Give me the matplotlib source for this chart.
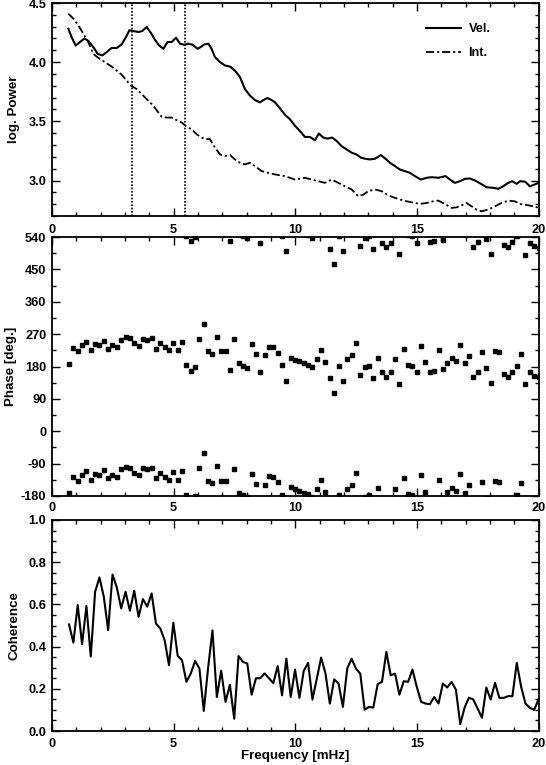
import numpy as np
import matplotlib
matplotlib.use("Agg")
import matplotlib.pyplot as plt
from matplotlib.ticker import MultipleLocator, FixedLocator

# ---------------- data ----------------
vel_freq = [0.67, 0.81, 0.97, 1.15, 1.33, 1.49, 1.70, 1.88, 2.07, 2.25, 2.45, 2.66, 2.86, 3.03, 3.18,
            3.34, 3.55, 3.71, 3.89, 4.07, 4.23, 4.40, 4.58, 4.75, 4.92, 5.10, 5.26, 5.44, 5.60, 5.78,
            5.99, 6.15, 6.26, 6.43, 6.56, 6.70, 6.91, 7.11, 7.32, 7.52, 7.73, 7.93, 8.14, 8.34, 8.55,
            8.69, 8.86, 9.03, 9.17, 9.37, 9.58, 9.78, 9.99, 10.19, 10.40, 10.60, 10.81, 10.97, 11.15,
            11.33, 11.52, 11.70, 11.91, 12.11, 12.32, 12.52, 12.70, 12.87, 13.07, 13.28, 13.52, 13.69,
            13.89, 14.10, 14.30, 14.51, 14.71, 14.92, 15.17, 15.40, 15.61, 15.88, 16.18, 16.36, 16.56,
            16.77, 16.98, 17.18, 17.39, 17.63, 17.87, 18.14, 18.35, 18.55, 18.76, 18.92, 19.10, 19.24,
            19.45, 19.65, 20.0]
vel_power = [4.283, 4.21, 4.14, 4.17, 4.20, 4.18, 4.127, 4.07, 4.057, 4.085, 4.12, 4.12, 4.15, 4.207, 4.27,
             4.263, 4.255, 4.263, 4.297, 4.246, 4.19, 4.142, 4.113, 4.17, 4.17, 4.207, 4.156, 4.147, 4.156, 4.147,
             4.113, 4.133, 4.15, 4.156, 4.113, 4.042, 4.0, 3.972, 3.963, 3.929, 3.873, 3.773, 3.717, 3.68, 3.66,
             3.68, 3.697, 3.68, 3.66, 3.61, 3.555, 3.518, 3.462, 3.419, 3.368, 3.368, 3.34, 3.397, 3.363,
             3.354, 3.363, 3.334, 3.29, 3.263, 3.235, 3.22, 3.193, 3.184, 3.178, 3.184, 3.215, 3.187,
             3.15, 3.122, 3.093, 3.079, 3.065, 3.037, 3.008, 3.023, 3.028, 3.023, 3.037, 3.008, 2.98,
             2.994, 3.014, 3.017, 3.0, 2.972, 2.943, 2.938, 2.93, 2.952, 2.98, 2.994, 2.972, 2.994,
             2.99, 2.95, 2.98]

int_freq = [0.67, 0.88, 1.08, 1.29, 1.49, 1.70, 1.90, 2.18, 2.45, 2.66, 2.86, 3.07, 3.25, 3.48, 3.69,
            3.89, 4.10, 4.30, 4.51, 4.71, 4.92, 5.12, 5.33, 5.54, 5.74, 5.95, 6.15, 6.29, 6.49, 6.70,
            6.91, 7.11, 7.32, 7.52, 7.73, 7.93, 8.14, 8.34, 8.62, 8.89, 9.17, 9.58, 9.99, 10.40, 10.67,
            10.95, 11.22, 11.50, 11.77, 12.04, 12.32, 12.59, 12.80, 13.00, 13.28, 13.55, 13.82, 14.10,
            14.44, 14.78, 15.13, 15.40, 15.67, 15.88, 16.15, 16.43, 16.63, 16.84, 17.04, 17.25, 17.45,
            17.66, 17.93, 18.21, 18.48, 18.76, 19.03, 19.24, 19.60, 20.0]
int_power = [4.41, 4.368, 4.312, 4.24, 4.17, 4.07, 4.037, 4.0, 3.963, 3.929, 3.895, 3.844, 3.80, 3.773, 3.73,
             3.688, 3.646, 3.595, 3.538, 3.532, 3.532, 3.51, 3.49, 3.453, 3.433, 3.39, 3.363, 3.35, 3.35, 3.278,
             3.22, 3.207, 3.215, 3.178, 3.15, 3.136, 3.15, 3.122, 3.079, 3.065, 3.051, 3.037, 3.008, 3.023, 3.008,
             2.994, 2.98, 3.008, 2.98, 2.952, 2.924, 2.867, 2.881, 2.91, 2.924, 2.91, 2.875, 2.853,
             2.83, 2.816, 2.802, 2.81, 2.824, 2.83, 2.802, 2.768, 2.773, 2.79, 2.81, 2.782, 2.754,
             2.74, 2.754, 2.782, 2.81, 2.83, 2.824, 2.802, 2.79, 2.77]

marked_freqs = [3.27, 5.48]

phase = [187, 232, 223, 239, 249, 225, 242, 239, 251, 230, 239, 233, 255, 261, 258, 244, 238, 257,
         255, 258, 230, 244, 233, 225, 246, 225, 249, 184, 168, 180, 257, 299, 223, 216, 263, 223,
         223, 170, 256, 189, 182, 176, 242, 214, 164, 211, 235, 233, 218, 184, 140, 204, 199, 195,
         189, 185, 178, 200, 225, 192, 147, 105, 182, 140, 200, 211, 244, 156, 178, 182, 147, 203,
         164, 152, 164, 200, 132, 230, 185, 182, 164, 238, 192, 165, 168, 225, 173, 190, 203, 195,
         241, 189, 210, 152, 165, 220, 175, 133, 223, 220, 159, 152, 165, 182, 215, 130, 164, 154, 150]

coherence = [0.505, 0.419, 0.597, 0.411, 0.592, 0.353, 0.660, 0.728, 0.636, 0.478,
             0.741, 0.680, 0.581, 0.660, 0.570, 0.665, 0.541, 0.625, 0.589, 0.652,
             0.509, 0.486, 0.430, 0.312, 0.513, 0.356, 0.335, 0.233, 0.272, 0.332,
             0.296, 0.095, 0.300, 0.477, 0.161, 0.286, 0.138, 0.219, 0.058, 0.355,
             0.328, 0.320, 0.172, 0.250, 0.250, 0.273, 0.250, 0.227, 0.308,
             0.169, 0.343, 0.161, 0.291, 0.157, 0.285, 0.323, 0.149, 0.248, 0.348,
             0.272, 0.130, 0.245, 0.225, 0.114, 0.296, 0.343, 0.296, 0.272, 0.101,
             0.114, 0.111, 0.222, 0.233, 0.375, 0.264, 0.272, 0.172, 0.236, 0.233,
             0.291, 0.209, 0.138, 0.130, 0.127, 0.161, 0.130, 0.225, 0.206, 0.233,
             0.196, 0.032, 0.111, 0.158, 0.149, 0.106, 0.063, 0.206, 0.149, 0.228,
             0.157, 0.157, 0.165, 0.165, 0.323,
             0.21, 0.13, 0.11, 0.10, 0.15]

f_start, f_stop = 0.70, 20.0
freq = np.linspace(f_start, f_stop, len(coherence))

xticks = [0, 5, 10, 15, 20]
power_ticks = [3.0, 3.5, 4.0, 4.5]
phase_ticks = [-180, -90, 0, 90, 180, 270, 360, 450, 540]
coh_ticks = [0.0, 0.2, 0.4, 0.6, 0.8, 1.0]

# ---------------- style ----------------
plt.rcParams['font.family'] = ['Liberation Sans', 'DejaVu Sans']
plt.rcParams['font.weight'] = 'bold'
FS = 9.2
LFS = 9.6

W, H = 546, 765
fig = plt.figure(figsize=(W / 100, H / 100), dpi=100)

def add_ax(top, bottom):
    left, right = 52, 538.5
    return fig.add_axes([left / W, 1 - bottom / H, (right - left) / W, (bottom - top) / H])

def style(ax, yticks, yminor, fmt, xpad=4):
    ax.set_xlim(0, 20)
    ax.xaxis.set_major_locator(FixedLocator(xticks))
    ax.xaxis.set_minor_locator(MultipleLocator(1))
    ax.yaxis.set_major_locator(FixedLocator(yticks))
    ax.yaxis.set_minor_locator(MultipleLocator(yminor))
    ax.set_xticklabels([str(t) for t in xticks], fontweight='bold')
    ax.set_yticklabels([fmt(t) for t in yticks], fontweight='bold')
    ax.tick_params(which='both', direction='in', top=True, right=True, width=1.0,
                   labelsize=FS, pad=4)
    ax.tick_params(axis='x', which='both', pad=xpad)
    ax.tick_params(which='major', length=6)
    ax.tick_params(which='minor', length=3)
    for s in ax.spines.values():
        s.set_linewidth(1.3)

# ---- top panel ----
ax1 = add_ax(3, 216)
ax1.plot(vel_freq, vel_power, color='k', lw=1.5, label='Vel.')
ax1.plot(int_freq, int_power, color='k', lw=1.3, ls=(0, (4.5, 1.6, 1.2, 1.6)), label='Int.')
for mf in marked_freqs:
    ax1.axvline(mf, color='k', lw=1.2, ls=(0, (1, 1)))
ax1.set_ylim(2.70, 4.5)
style(ax1, power_ticks, 0.1, lambda t: f"{t:.1f}", xpad=6)
ax1.set_ylabel('log. Power', fontsize=LFS, fontweight='bold', labelpad=6)
leg = ax1.legend(loc='upper left', bbox_to_anchor=(0.768, 0.905), frameon=False, fontsize=FS,
                 handlelength=2.8, handletextpad=0.55, labelspacing=0.95,
                 borderpad=0, borderaxespad=0)
for t in leg.get_texts():
    t.set_fontweight('bold')

# ---- middle panel ----
ax2 = add_ax(237, 496)
for shift in (-360, 0, 360):
    ax2.plot(freq, np.asarray(phase) + shift, ls='none', marker='s', ms=3.5, color='k')
ax2.set_ylim(-180, 540)
style(ax2, phase_ticks, 45, lambda t: str(t))
ax2.set_ylabel('Phase [deg.]', fontsize=LFS, fontweight='bold', labelpad=3)

# ---- bottom panel ----
ax3 = add_ax(520, 731)
ax3.plot(freq, coherence, color='k', lw=1.5)
ax3.set_ylim(0, 1.0)
style(ax3, coh_ticks, 0.05, lambda t: f"{t:.1f}", xpad=5)
ax3.set_ylabel('Coherence', fontsize=LFS, fontweight='bold', labelpad=6)
ax3.set_xlabel('Frequency [mHz]', fontsize=LFS, fontweight='bold', labelpad=0)

fig.savefig('out.png', dpi=100)
